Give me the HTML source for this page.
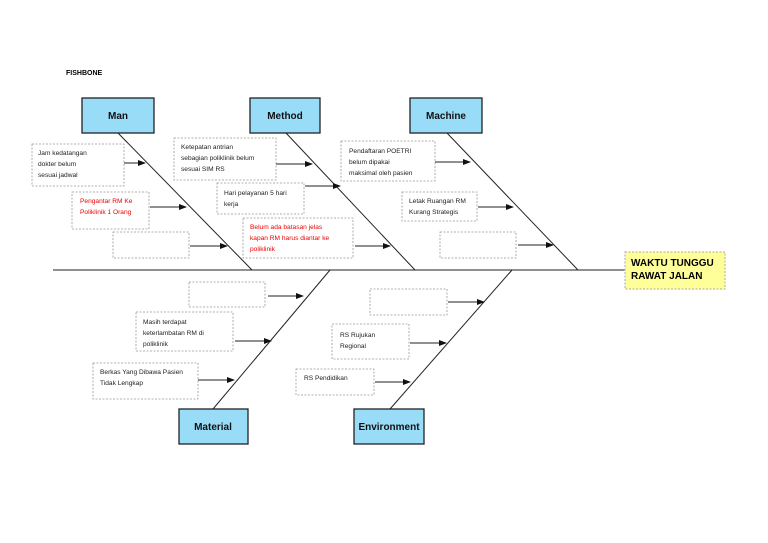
<!DOCTYPE html>
<html><head><meta charset="utf-8"><style>
body{margin:0;background:#fff;}
svg{display:block;font-family:"Liberation Sans",sans-serif;}
.c{fill:#99dcf8;stroke:#222;stroke-width:1.3}
.d{fill:#fff;stroke:#999;stroke-width:0.8;stroke-dasharray:2,1.5}
.l{stroke:#222;stroke-width:1}
.t{font-size:6.6px;fill:#222}
.r{font-size:6.6px;fill:#e00}
.h{font-size:10px;font-weight:bold;fill:#111;text-anchor:middle}
</style></head><body>
<svg width="768" height="543" viewBox="0 0 768 543">
<defs><marker id="a" markerWidth="8" markerHeight="6" refX="7" refY="3" orient="auto" markerUnits="userSpaceOnUse"><path d="M0,0L8,3L0,6z" fill="#111"/></marker></defs>
<text x="66" y="75" font-size="7px" font-weight="bold">FISHBONE</text>
<line class="l" x1="53" y1="270" x2="625" y2="270"/>
<line class="l" x1="118" y1="133" x2="252" y2="270"/>
<line class="l" x1="286" y1="133" x2="415" y2="270"/>
<line class="l" x1="447" y1="133" x2="578" y2="270"/>
<line class="l" x1="213" y1="409" x2="330" y2="270"/>
<line class="l" x1="390" y1="409" x2="512" y2="270"/>
<rect class="c" x="82" y="98" width="72" height="35"/><text class="h" x="118" y="119">Man</text>
<rect class="c" x="250" y="98" width="70" height="35"/><text class="h" x="285" y="119">Method</text>
<rect class="c" x="410" y="98" width="72" height="35"/><text class="h" x="446" y="119">Machine</text>
<rect class="c" x="179" y="409" width="69" height="35"/><text class="h" x="213" y="430">Material</text>
<rect class="c" x="354" y="409" width="70" height="35"/><text class="h" x="389" y="430">Environment</text>
<rect x="625" y="252" width="100" height="37" fill="#ffff99" stroke="#aaa" stroke-dasharray="2,1.5"/>
<text x="631" y="266" font-size="10px" font-weight="bold">WAKTU TUNGGU</text>
<text x="631" y="279" font-size="10px" font-weight="bold">RAWAT JALAN</text>
<g>
<rect class="d" x="32" y="144" width="92" height="42"/>
<text class="t" x="38" y="155">Jam kedatangan</text><text class="t" x="38" y="166">dokter belum</text><text class="t" x="38" y="177">sesuai jadwal</text>
<line class="l" x1="124" y1="163" x2="145" y2="163" marker-end="url(#a)"/>
<rect class="d" x="72" y="192" width="77" height="37"/>
<text class="r" x="80" y="203">Pengantar RM Ke</text><text class="r" x="80" y="214">Poliklinik 1 Orang</text>
<line class="l" x1="150" y1="207" x2="186" y2="207" marker-end="url(#a)"/>
<rect class="d" x="113" y="232" width="76" height="26"/>
<line class="l" x1="190" y1="246" x2="227" y2="246" marker-end="url(#a)"/>
<rect class="d" x="174" y="138" width="102" height="42"/>
<text class="t" x="181" y="149">Ketepatan antrian</text><text class="t" x="181" y="160">sebagian poliklinik belum</text><text class="t" x="181" y="171">sesuai SIM RS</text>
<line class="l" x1="276" y1="164" x2="312" y2="164" marker-end="url(#a)"/>
<rect class="d" x="217" y="183" width="87" height="31"/>
<text class="t" x="224" y="195">Hari pelayanan 5 hari</text><text class="t" x="224" y="206">kerja</text>
<line class="l" x1="305" y1="186" x2="340" y2="186" marker-end="url(#a)"/>
<rect class="d" x="243" y="218" width="110" height="40"/>
<text class="r" x="250" y="229">Belum ada batasan jelas</text><text class="r" x="250" y="240">kapan RM harus diantar ke</text><text class="r" x="250" y="251">poliklinik</text>
<line class="l" x1="355" y1="246" x2="390" y2="246" marker-end="url(#a)"/>
<rect class="d" x="341" y="141" width="94" height="40"/>
<text class="t" x="349" y="153">Pendaftaran POETRI</text><text class="t" x="349" y="164">belum dipakai</text><text class="t" x="349" y="175">maksimal oleh pasien</text>
<line class="l" x1="435" y1="162" x2="470" y2="162" marker-end="url(#a)"/>
<rect class="d" x="402" y="192" width="75" height="29"/>
<text class="t" x="409" y="203">Letak Ruangan RM</text><text class="t" x="409" y="214">Kurang Strategis</text>
<line class="l" x1="478" y1="207" x2="513" y2="207" marker-end="url(#a)"/>
<rect class="d" x="440" y="232" width="76" height="26"/>
<line class="l" x1="518" y1="245" x2="553" y2="245" marker-end="url(#a)"/>
<rect class="d" x="189" y="282" width="76" height="25"/>
<line class="l" x1="268" y1="296" x2="303" y2="296" marker-end="url(#a)"/>
<rect class="d" x="136" y="312" width="97" height="39"/>
<text class="t" x="143" y="324">Masih terdapat</text><text class="t" x="143" y="335">keterlambatan RM di</text><text class="t" x="143" y="346">poliklinik</text>
<line class="l" x1="235" y1="341" x2="271" y2="341" marker-end="url(#a)"/>
<rect class="d" x="93" y="363" width="105" height="36"/>
<text class="t" x="100" y="374">Berkas Yang Dibawa Pasien</text><text class="t" x="100" y="385">Tidak Lengkap</text>
<line class="l" x1="198" y1="380" x2="234" y2="380" marker-end="url(#a)"/>
<rect class="d" x="370" y="289" width="77" height="26"/>
<line class="l" x1="448" y1="302" x2="484" y2="302" marker-end="url(#a)"/>
<rect class="d" x="332" y="324" width="77" height="35"/>
<text class="t" x="340" y="337">RS Rujukan</text><text class="t" x="340" y="348">Regional</text>
<line class="l" x1="410" y1="343" x2="446" y2="343" marker-end="url(#a)"/>
<rect class="d" x="296" y="369" width="78" height="26"/>
<text class="t" x="304" y="380">RS Pendidikan</text>
<line class="l" x1="375" y1="382" x2="410" y2="382" marker-end="url(#a)"/>
</g>
</svg>
</body></html>
